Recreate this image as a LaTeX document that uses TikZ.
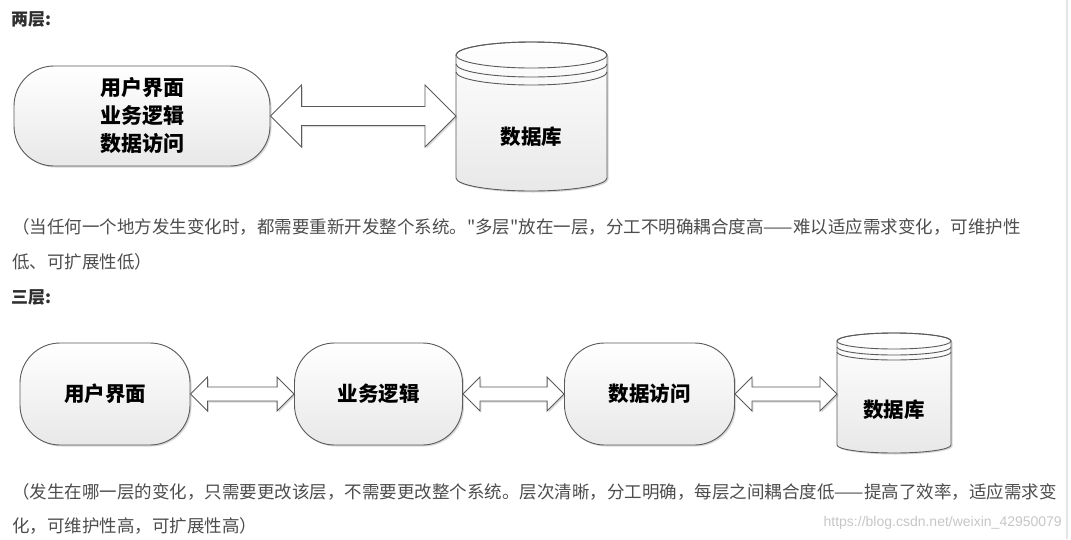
\documentclass[tikz,border=0pt]{standalone}
\usepackage{fontspec}
\usetikzlibrary{shadows,calc}
\newfontfamily\cjk{Noto Sans CJK SC}
\newfontfamily\wmfont{Liberation Sans}
\definecolor{txt}{HTML}{4D4D4D}
\definecolor{head}{HTML}{2F2F2F}
\definecolor{edge}{HTML}{5A5A5A}
\newcommand\dblarrow[5]{%
  \draw[dblarrowsty] let \p1=(#1), \p2=(#2) in
    (\x1,\y1) -- (\x1+#3pt,\y1+#4pt) -- (\x1+#3pt,\y1+#5pt) -- (\x2-#3pt,\y1+#5pt)
    -- (\x2-#3pt,\y1+#4pt) -- (\x2,\y1) -- (\x2-#3pt,\y1-#4pt) -- (\x2-#3pt,\y1-#5pt)
    -- (\x1+#3pt,\y1-#5pt) -- (\x1+#3pt,\y1-#4pt) -- cycle;}
\tikzset{
  myshadow/.style={drop shadow={shadow xshift=1.5pt, shadow yshift=-1.5pt, opacity=0.25, fill=black!60}},
  layerbox/.style={draw=edge, line width=0.9pt, top color=white, bottom color=black!9,
    rounded corners=40pt, inner sep=0pt, align=center, myshadow,
    font=\cjk\bfseries\fontsize{20.5}{28}\selectfont},
  dbbody/.style={draw=edge, line width=0.9pt, top color=white, bottom color=black!9, myshadow},
  dbline/.style={draw=edge, line width=0.9pt},
  dblarrowsty/.style={draw=edge, line width=0.9pt, fill=white, myshadow},
  para/.style={anchor=base west, inner sep=0pt, font=\cjk\fontsize{17.5}{20}\selectfont, text=txt},
  heading/.style={anchor=base west, inner sep=0pt, font=\cjk\bfseries\fontsize{17}{20}\selectfont, text=head},
  dblabel/.style={font=\cjk\bfseries\fontsize{20.5}{24}\selectfont, inner sep=0pt},
}
\begin{document}
\begin{tikzpicture}[x=1pt,y=-1pt]
\useasboundingbox[fill=white] (0,0) rectangle (1071,539);
\draw[black!10, line width=1.5pt] (1067,0) -- (1067,539);

% ---------- two layers ----------
\node[heading] (h1) at (11,25) {两层:};
\node[layerbox, minimum width=256pt, minimum height=100pt, font=\cjk\bfseries\fontsize{21}{28}\selectfont] (tbox) at (142,116)
  {用户界面\\业务逻辑\\数据访问};

\draw[dbbody] (456,55) -- (456,178) arc[start angle=180, end angle=0, x radius=75.5, y radius=13]
  -- (607,55) arc[start angle=0, end angle=-180, x radius=75.5, y radius=13] -- cycle;
\draw[dbline] (531.5,55) ellipse [x radius=75.5, y radius=13];
\draw[dbline] (456,64) arc[start angle=180, end angle=0, x radius=75.5, y radius=13];
\draw[dbline] (456,72) arc[start angle=180, end angle=0, x radius=75.5, y radius=13];
\node[dblabel] (db1) at (531.5,137) {数据库};
\coordinate (db1w) at (456,116);

\dblarrow{tbox.east}{db1w}{31}{31}{9.5}

\node[para] (p1) at (12,233) {（当任何一个地方发生变化时，都需要重新开发整个系统。"多层"放在一层，分工不明确耦合度高——难以适应需求变化，可维护性};
\node[para] (p2) at (12,268) {低、可扩展性低）};

% ---------- three layers ----------
\node[heading] (h2) at (11,303) {三层:};
\node[layerbox, minimum width=170pt, minimum height=102pt] (b1) at (105,394) {用户界面};
\node[layerbox, minimum width=168pt, minimum height=102pt] (b2) at (378.5,394) {业务逻辑};
\node[layerbox, minimum width=170pt, minimum height=102pt] (b3) at (649.5,394) {数据访问};

\draw[dbbody] (837,341) -- (837,445) arc[start angle=180, end angle=0, x radius=57, y radius=8]
  -- (951,341) arc[start angle=0, end angle=-180, x radius=57, y radius=8] -- cycle;
\draw[dbline] (894,341) ellipse [x radius=57, y radius=8];
\draw[dbline] (837,347) arc[start angle=180, end angle=0, x radius=57, y radius=8];
\draw[dbline] (837,352) arc[start angle=180, end angle=0, x radius=57, y radius=8];
\node[dblabel] (db2) at (894,410) {数据库};
\coordinate (db2w) at (837,394);

\dblarrow{b1.east}{b2.west}{17}{17}{7}
\dblarrow{b2.east}{b3.west}{17}{17}{7}
\dblarrow{b3.east}{db2w}{17}{17}{7}

\node[para] (p3) at (12,498) {（发生在哪一层的变化，只需要更改该层，不需要更改整个系统。层次清晰，分工明确，每层之间耦合度低——提高了效率，适应需求变};
\node[para] (p4) at (12,532) {化，可维护性高，可扩展性高）};
\node[anchor=base east, inner sep=0pt, font=\wmfont\fontsize{14}{16}\selectfont, text=black!22] (wm) at (1062,526) {https://blog.csdn.net/weixin\_42950079};
\end{tikzpicture}
\end{document}
